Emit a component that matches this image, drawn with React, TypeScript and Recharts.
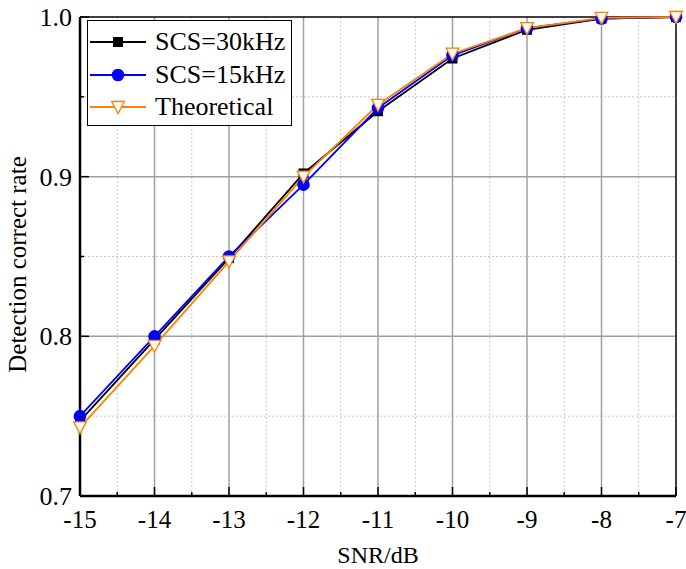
import React from 'react';
import { LineChart, Line, XAxis, YAxis, CartesianGrid, Legend } from 'recharts';

const snr = [-15, -14, -13, -12, -11, -10, -9, -8, -7];
const scs30 = [0.747, 0.798, 0.849, 0.902, 0.941, 0.974, 0.992, 0.999, 1.0];
const scs15 = [0.75, 0.8, 0.85, 0.895, 0.943, 0.976, 0.993, 0.999, 1.0];
const theoretical = [0.743, 0.794, 0.847, 0.9, 0.945, 0.977, 0.993, 0.9995, 1.0];

const xMajorTicks = [-15, -14, -13, -12, -11, -10, -9, -8, -7];
const xMinorTicks = [-14.5, -13.5, -12.5, -11.5, -10.5, -9.5, -8.5, -7.5];
const yMajorTicks = [0.7, 0.8, 0.9, 1.0];
const yMinorTicks = [0.75, 0.85, 0.95];
const xMajorGrid = [-14, -13, -12, -11, -10, -9, -8];
const yMajorGrid = [0.8, 0.9];

const data = snr.map((x, i) => ({ x, scs30: scs30[i], scs15: scs15[i], theo: theoretical[i] }));

const FONT = '"Liberation Serif", "Times New Roman", serif';
const BLACK = '#000000';
const BLUE = '#0000FF';
const ORANGE = '#FF8000';

const Square = ({ cx, cy, k }: any) => (
  <rect key={k} x={cx - 5} y={cy - 5} width={10} height={10} fill={BLACK} />
);
const Circle = ({ cx, cy, k }: any) => <circle key={k} cx={cx} cy={cy} r={6.3} fill={BLUE} />;
const Tri = ({ cx, cy, k }: any) => (
  <path
    key={k}
    d={`M${cx - 6.3},${cy - 5.5} L${cx + 6.3},${cy - 5.5} L${cx},${cy + 6.5} Z`}
    fill="#ffffff"
    stroke={ORANGE}
    strokeWidth={1.3}
  />
);

const XTick = (props: any) => {
  const { x, y, payload } = props;
  const major = xMajorTicks.includes(payload.value);
  return (
    <g>
      <line x1={x} x2={x} y1={y} y2={y - (major ? 9 : 4)} stroke={BLACK} strokeWidth={1.5} />
      {major && (
        <text x={x} y={y + 32} textAnchor="middle" fontFamily={FONT} fontSize={25} fill={BLACK}>
          {payload.value}
        </text>
      )}
    </g>
  );
};

const YTick = (props: any) => {
  const { x, y, payload } = props;
  const major = yMajorTicks.includes(payload.value);
  return (
    <g>
      <line x1={x} x2={x + (major ? 9 : 4)} y1={y} y2={y} stroke={BLACK} strokeWidth={1.5} />
      {major && (
        <text x={x - 8} y={y + 9} textAnchor="end" fontFamily={FONT} fontSize={26} fill={BLACK}>
          {payload.value.toFixed(1)}
        </text>
      )}
    </g>
  );
};

const legendItems = [
  { name: 'SCS=30kHz', color: BLACK, shape: 'square' },
  { name: 'SCS=15kHz', color: BLUE, shape: 'circle' },
  { name: 'Theoretical', color: ORANGE, shape: 'tri' },
];

const LegendBox = () => (
  <div
    style={{
      border: '1.5px solid #000',
      background: '#fff',
      width: 205,
      height: 106,
      paddingTop: 5,
      boxSizing: 'border-box',
      fontFamily: FONT,
    }}
  >
    {legendItems.map((it) => (
      <div key={it.name} style={{ display: 'flex', alignItems: 'center', height: 32.5 }}>
        <svg width={58} height={20} style={{ marginLeft: 2, marginRight: 7 }}>
          <line x1={0} x2={56} y1={10} y2={10} stroke={it.color} strokeWidth={1.8} />
          {it.shape === 'square' && <Square cx={28} cy={10} />}
          {it.shape === 'circle' && <Circle cx={28} cy={10} />}
          {it.shape === 'tri' && <Tri cx={28} cy={10} />}
        </svg>
        <span style={{ fontSize: 26, color: '#000', lineHeight: '26px' }}>{it.name}</span>
      </div>
    ))}
  </div>
);

const YLabel = (props: any) => {
  const { viewBox } = props;
  const cx = viewBox.x + 26;
  const cy = viewBox.y + viewBox.height / 2 + 8;
  return (
    <text
      x={cx}
      y={cy}
      transform={`rotate(-90, ${cx}, ${cy})`}
      textAnchor="middle"
      fontFamily={FONT}
      fontSize={25}
      fill={BLACK}
    >
      Detection correct rate
    </text>
  );
};

export default function App() {
  return (
    <div style={{ position: 'absolute', left: 0, top: 0, width: 686, height: 569, background: '#fff' }}>
      <LineChart width={686} height={569} data={data} margin={{ top: 17, right: 10, left: 0, bottom: 0 }}>
        <CartesianGrid
          horizontalValues={yMinorTicks}
          verticalValues={xMinorTicks}
          stroke="#c8c8c8"
          strokeDasharray="2 2"
          strokeWidth={1}
        />
        <CartesianGrid
          horizontalValues={yMajorGrid}
          verticalValues={xMajorGrid}
          stroke="#a0a0a0"
          strokeWidth={1.5}
        />
        <CartesianGrid horizontalValues={[1.0]} verticalValues={[-7]} stroke={BLACK} strokeWidth={1.5} />
        <XAxis
          dataKey="x"
          type="number"
          domain={[-15, -7]}
          ticks={[...xMajorTicks, ...xMinorTicks].sort((a, b) => a - b)}
          interval={0}
          tickLine={false}
          tickSize={0}
          tickMargin={0}
          tick={<XTick />}
          axisLine={{ stroke: BLACK, strokeWidth: 2.5 }}
          height={73}
          label={{ value: 'SNR/dB', position: 'insideBottom', offset: 6, fontFamily: FONT, fontSize: 24, fill: BLACK }}
        />
        <YAxis
          type="number"
          domain={[0.7, 1.0]}
          ticks={[...yMajorTicks, ...yMinorTicks].sort((a, b) => a - b)}
          interval={0}
          tickLine={false}
          tickSize={0}
          tickMargin={0}
          tick={<YTick />}
          axisLine={{ stroke: BLACK, strokeWidth: 2.5 }}
          width={80}
          label={<YLabel />}
        />
        <Legend
          layout="vertical"
          align="center"
          verticalAlign="middle"
          content={<LegendBox />}
          wrapperStyle={{ left: 87, top: 20, width: 205, height: 106 }}
        />
        <Line
          dataKey="scs30"
          name="SCS=30kHz"
          stroke={BLACK}
          strokeWidth={1.8}
          isAnimationActive={false}
          dot={(p: any) => <Square key={`s-${p.index}`} cx={p.cx} cy={p.cy} />}
        />
        <Line
          dataKey="scs15"
          name="SCS=15kHz"
          stroke={BLUE}
          strokeWidth={1.8}
          isAnimationActive={false}
          dot={(p: any) => <Circle key={`c-${p.index}`} cx={p.cx} cy={p.cy} />}
        />
        <Line
          dataKey="theo"
          name="Theoretical"
          stroke={ORANGE}
          strokeWidth={1.8}
          isAnimationActive={false}
          dot={(p: any) => <Tri key={`t-${p.index}`} cx={p.cx} cy={p.cy} />}
        />
      </LineChart>
    </div>
  );
}
